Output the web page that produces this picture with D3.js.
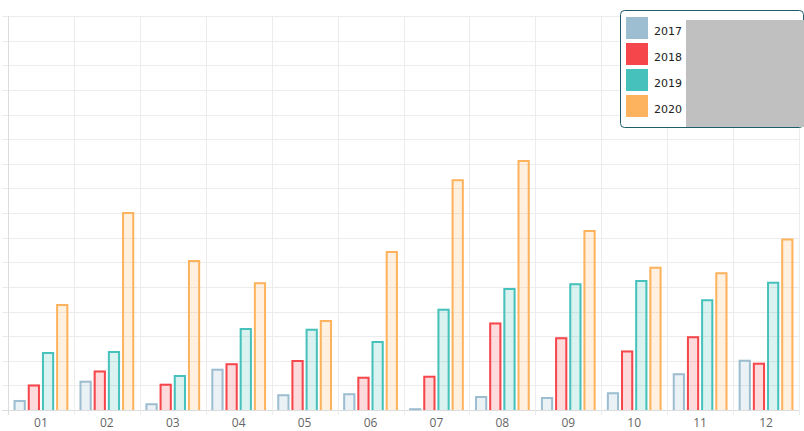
<!DOCTYPE html>
<html>
<head>
<meta charset="utf-8">
<script src="https://cdn.jsdelivr.net/npm/d3@7"></script>
<style>
  body { margin: 0; background: #fff; }
  svg { display: block; }
</style>
</head>
<body>
<svg id="chart" width="804" height="431"></svg>
<script>
const months = ['01', '02', '03', '04', '05', '06', '07', '08', '09', '10', '11', '12'];
const years = ['2017', '2018', '2019', '2020'];
const colors = ['#9dbdd0', '#f5464c', '#47c1bb', '#fdb35e'];

const v2017 = [4.1, 11.9, 2.7, 16.8, 6.4, 6.8, 0.7, 5.7, 5.3, 7.2, 14.9, 20.4];
const v2018 = [10.4, 16.0, 10.7, 19.0, 20.3, 13.5, 13.9, 35.5, 29.5, 24.2, 30.0, 19.2];
const v2019 = [23.6, 24.0, 14.2, 33.3, 33.0, 28.0, 41.1, 49.5, 51.5, 52.8, 45.0, 52.1];
const v2020 = [43.0, 80.4, 60.9, 51.9, 36.5, 64.6, 93.7, 101.5, 73.1, 58.2, 55.9, 69.6];
const series = [v2017, v2018, v2019, v2020];

const yTicks = d3.range(0, 161, 10);

const margin = { top: 16, right: 5, bottom: 21, left: 8 };
const width = 804, height = 431;
const svg = d3.select('#chart');

const x0 = d3.scaleBand()
    .domain(months)
    .range([margin.left, width - margin.right])
    .padding(0);

const x1 = d3.scaleBand()
    .domain(years)
    .range([0, x0.bandwidth()])
    .paddingInner(0.14)
    .paddingOuter(0.395);

const y = d3.scaleLinear()
    .domain([0, 160])
    .range([height - margin.bottom, margin.top]);

const base = y(0);

// grid
const grid = svg.append('g').attr('class', 'grid');
grid.selectAll('line.h')
    .data(yTicks)
    .join('line')
    .attr('class', 'h')
    .attr('x1', 2)
    .attr('x2', width - margin.right)
    .attr('y1', d => Math.round(y(d)) + 0.5)
    .attr('y2', d => Math.round(y(d)) + 0.5)
    .attr('stroke', d => d === 0 ? '#dcdcdc' : '#ececec')
    .attr('stroke-width', 1);

grid.selectAll('line.v')
    .data(months.concat(['end']))
    .join('line')
    .attr('class', 'v')
    .attr('x1', (d, i) => Math.round(margin.left + i * x0.step()) + 0.5)
    .attr('x2', (d, i) => Math.round(margin.left + i * x0.step()) + 0.5)
    .attr('y1', margin.top)
    .attr('y2', base + 5)
    .attr('stroke', (d, i) => i === 0 ? '#dcdcdc' : '#ececec')
    .attr('stroke-width', 1);

// bars
const groups = svg.append('g')
    .selectAll('g.month')
    .data(months)
    .join('g')
    .attr('class', 'month')
    .attr('transform', d => `translate(${x0(d)},0)`);

const cells = groups.selectAll('g.bar')
    .data((m, i) => years.map((yr, k) => ({ year: yr, k: k, value: series[k][i] })))
    .join('g')
    .attr('class', 'bar');

cells.append('rect')
    .attr('x', d => x1(d.year))
    .attr('y', d => y(d.value))
    .attr('width', x1.bandwidth())
    .attr('height', d => base - y(d.value))
    .attr('fill', d => colors[d.k])
    .attr('fill-opacity', 0.2);

// border on three sides, bottom skipped
cells.append('path')
    .attr('d', d => {
        const l = x1(d.year) + 1, r = x1(d.year) + x1.bandwidth() - 1;
        const t = y(d.value) + 1;
        return `M${l},${base}V${t}H${r}V${base}`;
    })
    .attr('fill', 'none')
    .attr('stroke', d => colors[d.k])
    .attr('stroke-width', 2);

// x labels
svg.append('g')
    .selectAll('text')
    .data(months)
    .join('text')
    .attr('x', d => x0(d) + x0.bandwidth() / 2)
    .attr('y', base + 17)
    .attr('text-anchor', 'middle')
    .attr('fill', '#666')
    .style('font-family', '"Open Sans", sans-serif')
    .style('font-size', '12px')
    .text(d => d);

// legend
const legend = svg.append('g').attr('transform', 'translate(620,10)');
legend.append('rect')
    .attr('x', 0.5)
    .attr('y', 0.5)
    .attr('width', 183)
    .attr('height', 117)
    .attr('rx', 4)
    .attr('fill', '#fff')
    .attr('stroke', '#1e5d6e')
    .attr('stroke-width', 1);

const items = legend.selectAll('g.item')
    .data(years)
    .join('g')
    .attr('class', 'item')
    .attr('transform', (d, i) => `translate(6,${7 + i * 26})`);

items.append('rect')
    .attr('width', 22)
    .attr('height', 22)
    .attr('fill', (d, i) => colors[i]);

items.append('text')
    .attr('x', 28)
    .attr('y', 18)
    .attr('fill', '#222')
    .style('font-family', '"DejaVu Sans", sans-serif')
    .style('font-size', '11px')
    .text(d => d);

// grey block over legend
legend.append('rect')
    .attr('x', 66)
    .attr('y', 10)
    .attr('width', 118)
    .attr('height', 107)
    .attr('fill', '#c0c0c0');
</script>
</body>
</html>
